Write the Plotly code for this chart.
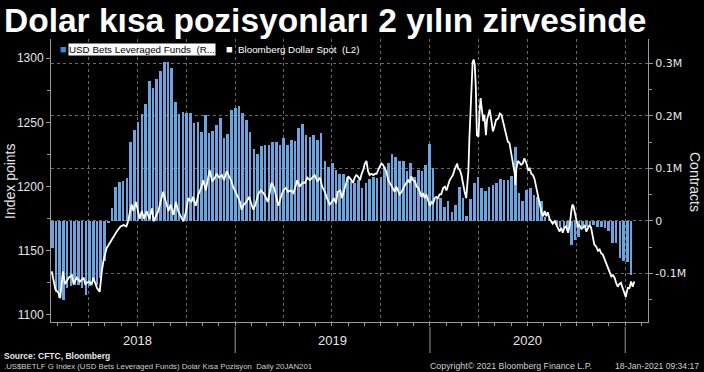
import plotly.graph_objects as go
import pandas as pd

# ---------------- data ----------------
title_text = "Dolar kısa pozisyonları 2 yılın zirvesinde"
bar_name = "USD Bets Leveraged Funds  (R..."
line_name = "Bloomberg Dollar Spot  (L2)"

# weekly CFTC positions (thousand contracts), first report 2018-01-23
bar_start = "2018-01-23"
bar_values_k = [
    -52, -135, -147, -150, -128, -125, -122, -122, -128, -141, -125, -116, -122, -109, -77, -4,
    24, 64, 74, 76, 81,
    150, 173, 189, 203, 223,
    267, 253, 270, 286, 303,
    303, 291, 227, 203, 207,
    206, 205, 186, 189, 169,
    202, 167, 171, 183, 196,
    157, 165, 211, 215, 218,
    205, 192, 169, 137, 128,
    142, 145, 145, 151, 151,
    145, 157, 145, 153, 152,
    177, 185, 164, 159, 164,
    154, 167, 114, 103, 111,
    97, 90, 89, 84, 75,
    72, 78, 63, 72, 80,
    84, 81, 83, 103, 110,
    127, 121, 114, 113, 94,
    110, 83, 97, 94, 107,
    147, 100, 46, 43, 27,
    37, 17, 30, 65, 43,
    10, 42, 72, 84, 62,
    56, 65, 69, 72, 79,
    78, 78, 86, 140, 53,
    37, 59, 63, 50, 46,
    37, 8, 2, -4, -8,
    -11, -14, -17, -46, -36,
    -30, -14, -11, -8, -8,
    -11, -11, -14, -20, -43,
    -43, -71, -77, -79, -104,
]

spot_dates = [
    "2018-01-22", "2018-01-29", "2018-02-04", "2018-02-07", "2018-02-12", "2018-02-16", "2018-02-23",
    "2018-03-01", "2018-03-04", "2018-03-10", "2018-03-16", "2018-03-23", "2018-03-26", "2018-04-01",
    "2018-04-07", "2018-04-10", "2018-04-17", "2018-04-22", "2018-04-26", "2018-04-29", "2018-05-05",
    "2018-05-12", "2018-05-18", "2018-05-24", "2018-05-31", "2018-06-06", "2018-06-11", "2018-06-15",
    "2018-06-18", "2018-06-21", "2018-06-24", "2018-06-29", "2018-07-06", "2018-07-10", "2018-07-14",
    "2018-07-19", "2018-07-24", "2018-07-29", "2018-08-01", "2018-08-06", "2018-08-10", "2018-08-14",
    "2018-08-19", "2018-08-24", "2018-08-29", "2018-09-02", "2018-09-07", "2018-09-12", "2018-09-16",
    "2018-09-23", "2018-09-26", "2018-10-01", "2018-10-05", "2018-10-11", "2018-10-14", "2018-10-19",
    "2018-10-24", "2018-10-30",
    "2018-11-02", "2018-11-07", "2018-11-11", "2018-11-14", "2018-11-19", "2018-11-24", "2018-11-27",
    "2018-12-02", "2018-12-07", "2018-12-11", "2018-12-16", "2018-12-21", "2018-12-25", "2018-12-28",
    "2019-01-02", "2019-01-07", "2019-01-10", "2019-01-13", "2019-01-17", "2019-01-22", "2019-01-27",
    "2019-02-01", "2019-02-04", "2019-02-08", "2019-02-13", "2019-02-18", "2019-02-23", "2019-02-27",
    "2019-03-03", "2019-03-07", "2019-03-10", "2019-03-15", "2019-03-20", "2019-03-23", "2019-03-27",
    "2019-04-01", "2019-04-06", "2019-04-10", "2019-04-15", "2019-04-20", "2019-04-24", "2019-04-27",
    "2019-05-02", "2019-05-07", "2019-05-12", "2019-05-16", "2019-05-21", "2019-05-26", "2019-05-30",
    "2019-06-04", "2019-06-09", "2019-06-13", "2019-06-18", "2019-06-22", "2019-06-27", "2019-07-01",
    "2019-07-05", "2019-07-09", "2019-07-12", "2019-07-17", "2019-07-20", "2019-07-24", "2019-07-28",
    "2019-08-01",
    "2019-08-07", "2019-08-10", "2019-08-13", "2019-08-16", "2019-08-19", "2019-08-23", "2019-08-26",
    "2019-08-29", "2019-09-01", "2019-09-04", "2019-09-07", "2019-09-10", "2019-09-13", "2019-09-17",
    "2019-09-20", "2019-09-23", "2019-09-26", "2019-09-29", "2019-10-02", "2019-10-05", "2019-10-08",
    "2019-10-11", "2019-10-15", "2019-10-18", "2019-10-21", "2019-10-24", "2019-10-27", "2019-10-30",
    "2019-11-02", "2019-11-05", "2019-11-09", "2019-11-12", "2019-11-15", "2019-11-18", "2019-11-21",
    "2019-11-24", "2019-11-27", "2019-11-30", "2019-12-04", "2019-12-07", "2019-12-10", "2019-12-13",
    "2019-12-16", "2019-12-19", "2019-12-22", "2019-12-25", "2019-12-28", "2020-01-01", "2020-01-04",
    "2020-01-07", "2020-01-10", "2020-01-13", "2020-01-16", "2020-01-19", "2020-01-22", "2020-01-26",
    "2020-01-29", "2020-02-01", "2020-02-04", "2020-02-07", "2020-02-10", "2020-02-13", "2020-02-16",
    "2020-02-20", "2020-02-21", "2020-02-23", "2020-02-26", "2020-02-29", "2020-03-03", "2020-03-06",
    "2020-03-09", "2020-03-13", "2020-03-15", "2020-03-17", "2020-03-20", "2020-03-21", "2020-03-23",
    "2020-03-25", "2020-03-27", "2020-03-29", "2020-04-01", "2020-04-03", "2020-04-05", "2020-04-07",
    "2020-04-10", "2020-04-12", "2020-04-15", "2020-04-17", "2020-04-20", "2020-04-22", "2020-04-25",
    "2020-04-28", "2020-05-01", "2020-05-04", "2020-05-08", "2020-05-11", "2020-05-14", "2020-05-17",
    "2020-05-20", "2020-05-23", "2020-05-26", "2020-05-29", "2020-06-01", "2020-06-05", "2020-06-08",
    "2020-06-09", "2020-06-11", "2020-06-14", "2020-06-17", "2020-06-20", "2020-06-23", "2020-06-26",
    "2020-06-30", "2020-07-03", "2020-07-06", "2020-07-09",
    "2020-07-12", "2020-07-15", "2020-07-18", "2020-07-21", "2020-07-25", "2020-07-28", "2020-07-31",
    "2020-08-03", "2020-08-06", "2020-08-09", "2020-08-12", "2020-08-15", "2020-08-18", "2020-08-22",
    "2020-08-25", "2020-08-28", "2020-08-31", "2020-09-03", "2020-09-06", "2020-09-09", "2020-09-12",
    "2020-09-16", "2020-09-19", "2020-09-22", "2020-09-24", "2020-09-26", "2020-09-28", "2020-10-01",
    "2020-10-04", "2020-10-07", "2020-10-11", "2020-10-14", "2020-10-17", "2020-10-20", "2020-10-23",
    "2020-10-26", "2020-10-29", "2020-11-01", "2020-11-04", "2020-11-08", "2020-11-11", "2020-11-14",
    "2020-11-17", "2020-11-20", "2020-11-23", "2020-11-26", "2020-11-29", "2020-12-03", "2020-12-06",
    "2020-12-09", "2020-12-12", "2020-12-15", "2020-12-18", "2020-12-21", "2020-12-24", "2020-12-28",
    "2020-12-31", "2021-01-02", "2021-01-04", "2021-01-06", "2021-01-09", "2021-01-12", "2021-01-15",
    "2021-01-18",
]
spot_values = [
    1134, 1120, 1117, 1113, 1134, 1124, 1129,
    1131, 1124, 1129, 1126, 1129, 1124, 1126,
    1124, 1129, 1121, 1118, 1134, 1142, 1152,
    1157, 1161, 1165, 1169, 1170, 1169, 1174,
    1181, 1186, 1181, 1188, 1175, 1181, 1175,
    1181, 1175, 1183, 1173, 1178, 1181, 1188,
    1196, 1188, 1181, 1186, 1178, 1188, 1181,
    1175, 1173, 1181, 1191, 1188, 1192, 1185,
    1194, 1200,
    1205, 1197, 1207, 1213, 1204, 1207, 1210,
    1207, 1209, 1205, 1212, 1208, 1204, 1200,
    1196, 1191, 1188, 1182, 1186, 1188, 1192,
    1185, 1182, 1186, 1194, 1197, 1195, 1192,
    1188, 1196, 1203, 1199, 1191, 1185, 1191,
    1197, 1199, 1196, 1197, 1195, 1200, 1205,
    1200, 1203, 1203, 1207, 1205, 1207, 1209,
    1204, 1207, 1200, 1196, 1191, 1186, 1188,
    1191, 1187, 1196, 1197, 1191, 1197, 1203,
    1208,
    1205, 1203, 1207, 1209, 1208, 1205, 1210,
    1213, 1218, 1220, 1212, 1209, 1210, 1209,
    1210, 1210, 1213, 1216, 1218, 1217, 1214,
    1212, 1205, 1203, 1200, 1199, 1196, 1200,
    1197, 1194, 1196, 1199, 1201, 1203, 1205,
    1203, 1208, 1205, 1204, 1200, 1199, 1196,
    1192, 1195, 1191, 1194, 1190, 1185, 1188,
    1187, 1191, 1192, 1191, 1194, 1194, 1199,
    1200, 1197, 1201, 1205, 1207, 1209, 1213,
    1217, 1218, 1214, 1213, 1209, 1201, 1196,
    1191, 1212, 1238, 1264, 1287, 1297, 1299,
    1295, 1277, 1240, 1239, 1258, 1269, 1261,
    1251, 1256, 1240, 1252, 1258, 1260, 1252,
    1243, 1247, 1252, 1253, 1257, 1256, 1251,
    1244, 1240, 1235, 1234, 1227, 1220, 1210,
    1201, 1214, 1220, 1218, 1217, 1218, 1222,
    1218, 1213, 1214, 1210,
    1209, 1206, 1200, 1194, 1185, 1180, 1177,
    1181, 1177, 1180, 1175, 1173, 1171, 1173,
    1170, 1167, 1165, 1168, 1164, 1168, 1169,
    1164, 1170, 1181, 1186, 1185, 1181, 1175,
    1169, 1170, 1167, 1168, 1170, 1165, 1168,
    1170, 1168, 1162, 1155, 1153, 1150, 1151,
    1148, 1147, 1144, 1140, 1137, 1133, 1130,
    1131, 1129, 1125, 1122, 1124, 1125, 1120,
    1116, 1114, 1118, 1121, 1121, 1126, 1122,
    1126,
]

year_labels = ["2018", "2019", "2020"]
year_label_dates = ["2018-07-01", "2019-07-02", "2020-07-01"]
year_starts = ["2019-01-01", "2020-01-01", "2021-01-01"]

left_ticks = [1100, 1150, 1200, 1250, 1300]
right_ticks = [-100000, 0, 100000, 200000, 300000]
right_ticktext = ["-0.1M", "0", "0.1M", "0.2M", "0.3M"]

# ---------------- figure ----------------
bar_dates = pd.date_range(bar_start, periods=len(bar_values_k), freq="7D")
bar_values = [v * 1000 for v in bar_values_k]

W, H = 704, 372
ML, MR, MT, MB = 51, 56, 39, 50
PW, PH = W - ML - MR, H - MT - MB


def px_x(px):
    return (px - ML) / PW


def px_y(py):
    return (H - MB - py) / PH


FONT = "Liberation Sans"
TXT = "#e6e6e6"
AX = "#9a9a9a"
GRID = "#6a6a6a"

fig = go.Figure()
fig.add_trace(go.Bar(
    x=bar_dates, y=bar_values, yaxis="y",
    marker=dict(color="#6ea4de", line=dict(width=0)),
    width=4.9 * 86400000, name=bar_name, showlegend=False,
))
fig.add_trace(go.Scatter(
    x=spot_dates, y=spot_values, yaxis="y2", mode="lines",
    line=dict(color="#ffffff", width=1.8), name=line_name, showlegend=False,
))

annotations = []
# legend
annotations.append(dict(x=px_x(63), y=px_y(49), xref="paper", yref="paper", text="■",
                        showarrow=False, xanchor="center", yanchor="middle",
                        font=dict(family=FONT, size=11, color="#3f86d9")))
annotations.append(dict(x=px_x(68), y=px_y(49), xref="paper", yref="paper", text=bar_name,
                        showarrow=False, xanchor="left", yanchor="middle", bgcolor="#ffffff",
                        borderpad=0, font=dict(family=FONT, size=9.8, color="#000000")))
annotations.append(dict(x=px_x(229), y=px_y(49), xref="paper", yref="paper", text="■",
                        showarrow=False, xanchor="center", yanchor="middle",
                        font=dict(family=FONT, size=11, color="#ffffff")))
annotations.append(dict(x=px_x(236), y=px_y(49), xref="paper", yref="paper", text=line_name,
                        showarrow=False, xanchor="left", yanchor="middle",
                        font=dict(family=FONT, size=9.8, color="#ffffff")))
# axis titles
annotations.append(dict(x=px_x(10), y=px_y(181), xref="paper", yref="paper", text="Index points",
                        showarrow=False, textangle=-90, xanchor="center", yanchor="middle",
                        font=dict(family=FONT, size=14, color=TXT)))
annotations.append(dict(x=px_x(695), y=px_y(182), xref="paper", yref="paper", text="Contracts",
                        showarrow=False, textangle=90, xanchor="center", yanchor="middle",
                        font=dict(family=FONT, size=14, color=TXT)))
# year labels
for lab, d in zip(year_labels, year_label_dates):
    annotations.append(dict(x=d, y=px_y(340), xref="x", yref="paper", text=lab,
                            showarrow=False, xanchor="center", yanchor="middle",
                            font=dict(family=FONT, size=13, color=TXT)))
# footer
annotations.append(dict(x=px_x(2), y=px_y(356), xref="paper", yref="paper",
                        text="<b>Source: CFTC, Bloomberg</b>", showarrow=False,
                        xanchor="left", yanchor="middle", font=dict(family=FONT, size=8.5, color=TXT)))
annotations.append(dict(x=px_x(2), y=px_y(366), xref="paper", yref="paper",
                        text=".US$BETLF G Index (USD Bets Leveraged Funds) Dolar Kısa Pozisyon  Daily 20JAN201",
                        showarrow=False, xanchor="left", yanchor="middle",
                        font=dict(family=FONT, size=7.8, color="#cfcfcf")))
annotations.append(dict(x=px_x(428), y=px_y(366), xref="paper", yref="paper",
                        text="Copyright© 2021 Bloomberg Finance L.P.",
                        showarrow=False, xanchor="left", yanchor="middle",
                        font=dict(family=FONT, size=8.8, color="#cfcfcf")))
annotations.append(dict(x=px_x(701), y=px_y(366), xref="paper", yref="paper",
                        text="18-Jan-2021 09:34:17",
                        showarrow=False, xanchor="right", yanchor="middle",
                        font=dict(family=FONT, size=8.6, color="#cfcfcf")))

shapes = []
for d in year_starts:
    shapes.append(dict(type="line", xref="x", yref="paper", x0=d, x1=d,
                       y0=px_y(327), y1=px_y(353), line=dict(color=AX, width=1)))

fig.update_layout(
    width=W, height=H,
    margin=dict(l=ML, r=MR, t=MT, b=MB, autoexpand=False),
    paper_bgcolor="#000000", plot_bgcolor="#000000",
    title=dict(text="<b>" + title_text + "</b>", x=4 / W, xanchor="left", xref="container",
               y=1 - 20 / H, yanchor="middle", yref="container",
               font=dict(family=FONT, size=33.5, color="#ffffff")),
    showlegend=False,
    bargap=0,
    annotations=annotations,
    shapes=shapes,
    xaxis=dict(
        type="date", range=["2018-01-20 18:00", "2021-02-12 17:00"],
        showgrid=True, gridcolor=GRID, griddash="dot", gridwidth=1,
        tick0="2018-01-01", dtick="M3", showticklabels=False,
        ticks="outside", ticklen=3, tickcolor=AX,
        minor=dict(dtick="M1", ticks="outside", ticklen=3, tickcolor=AX, showgrid=False),
        showline=True, linecolor=AX, linewidth=1, zeroline=False,
    ),
    yaxis=dict(
        side="right", range=[-192800, 346300],
        tickvals=right_ticks, ticktext=right_ticktext,
        showgrid=True, gridcolor=GRID, griddash="dot", gridwidth=1,
        ticks="outside", ticklen=4, tickcolor=AX,
        minor=dict(dtick=50000, ticks="outside", ticklen=3, tickcolor=AX, showgrid=False),
        showline=True, linecolor=AX, linewidth=1, zeroline=False,
        tickfont=dict(family="DejaVu Sans", size=11, color=TXT),
    ),
    yaxis2=dict(
        side="left", overlaying="y", range=[1094.5, 1315],
        tickvals=left_ticks, showgrid=False,
        ticks="outside", ticklen=4, tickcolor=AX,
        minor=dict(dtick=25, ticks="outside", ticklen=3, tickcolor=AX, showgrid=False),
        showline=True, linecolor=AX, linewidth=1, zeroline=False,
        tickfont=dict(family=FONT, size=12, color=TXT),
    ),
)

fig.write_html(
    "out.html",
    config={"displayModeBar": False},
    post_script="document.body.style.margin='0px';document.body.style.padding='0px';",
)
